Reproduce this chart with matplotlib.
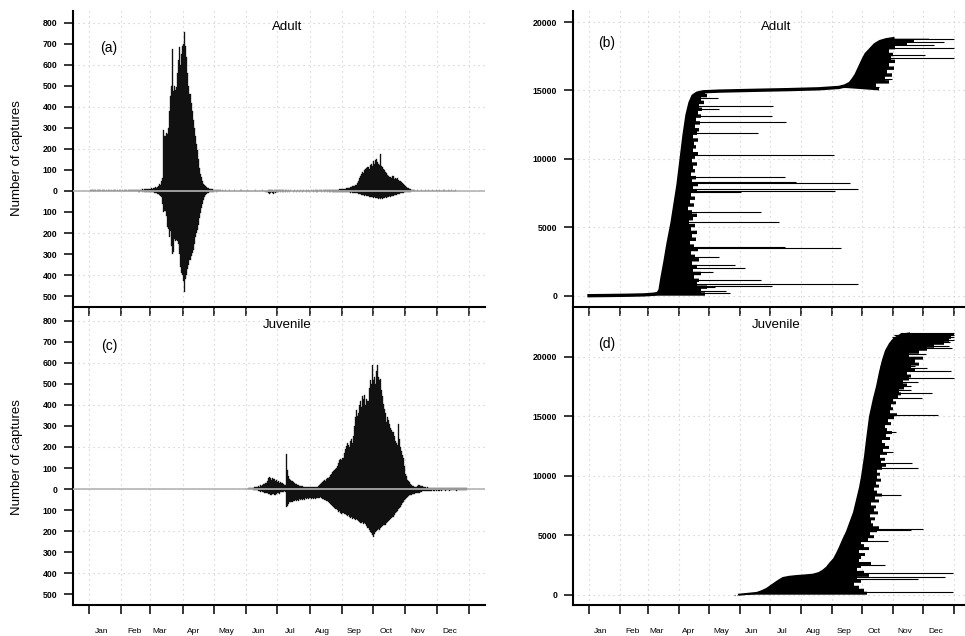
import numpy as np
import matplotlib
matplotlib.use('Agg')
import matplotlib.pyplot as plt

plt.rcParams['font.family'] = ['Liberation Sans', 'DejaVu Sans']

# month boundaries (day of year) and where the month names sit
month_edges = [0, 31, 59, 90, 120, 151, 181, 212, 243, 273, 304, 334, 365]
month_label_pos = [12, 43.5, 68, 100, 132, 162.5, 193, 224, 255, 285, 316, 346.5]
month_names = ['Jan', 'Feb', 'Mar', 'Apr', 'May', 'Jun',
               'Jul', 'Aug', 'Sep', 'Oct', 'Nov', 'Dec']

# ---- daily captures, adults (upper side) ----
adult_up_winter = [5, 4, 6, 3, 4, 5, 2, 3, 4, 6, 3, 2, 4, 3, 5, 2, 3, 2, 4, 3,
                   2, 3, 2, 4, 3, 2, 3, 2, 3, 4, 2, 3, 2, 3, 4, 3, 2, 3, 4, 3,
                   5, 4, 3, 4, 5, 6, 4, 5, 6, 5, 7, 6, 8, 7]            # day 1-54
adult_up_spring = [8, 9, 8, 10, 11, 12, 10, 14, 15, 18, 16, 20, 25, 35, 30, 45,
                   60, 290, 260, 275, 272, 300, 380, 450, 500, 675, 477, 500,
                   480, 493, 560, 620, 683, 600, 651, 690, 700, 757, 690, 635,
                   560, 500, 462, 420, 380, 335, 300, 260, 225, 193, 150, 110,
                   82, 65, 48, 35, 30, 24, 19, 15, 12, 10, 9, 7, 8, 6, 5, 4, 5,
                   3, 4]                                                  # day 55-125
adult_up_summer = [3, 2, 3, 2, 2, 3, 2, 1, 2, 3, 2, 2, 1, 2, 3, 2, 2, 1, 2, 2,
                   3, 2, 2, 1, 2, 2, 3, 2, 1, 2, 2, 1, 2, 2, 3, 2, 2, 1, 2, 2,
                   2, 3, 2, 2, 1, 2, 4, 3, 5, 4, 3, 2, 4, 3, 6, 5, 3, 4, 5, 3,
                   4, 3, 2, 3, 4, 2, 3, 2, 3, 2, 2, 3, 2, 2, 3, 2, 2, 3, 2, 2,
                   3, 2, 2, 3, 2, 3, 2, 2, 3, 2, 3, 2, 3, 3, 2, 3, 4, 3, 2, 3,
                   4, 3, 4, 3, 5, 4, 3, 4, 5, 4]                          # day 126-235
adult_up_autumn = [4, 5, 5, 6, 6, 8, 7, 9, 10, 9, 11, 12, 13, 14, 15, 18, 20, 22,
                   25, 24, 28, 30, 38, 48, 60, 70, 80, 90, 86, 100, 105, 110, 115,
                   106, 122, 128, 118, 140, 130, 148, 152, 138, 130, 125, 175, 120,
                   114, 105, 100, 92, 85, 78, 72, 66, 64, 62, 70, 58, 62, 55, 60,
                   52, 48, 45, 43, 38, 32, 28, 22, 19, 15, 12, 10, 8, 6, 4, 3]  # day 236-312
adult_up_late = [3, 2, 2, 3, 2, 2, 3, 2, 2, 2, 3, 2, 2, 3, 2, 2, 2, 3, 2, 2,
                 2, 3, 2, 2, 3, 2, 2, 2, 3, 2, 2, 2, 3, 2, 2, 3, 2, 2, 2, 3]  # day 313-352

# ---- daily captures, adults (lower side) ----
adult_dn_winter = [2, 1, 2, 1, 1, 2, 1, 2, 1, 1, 2, 1, 1, 2, 1, 2, 1, 1, 2, 1,
                   1, 2, 1, 1, 2, 1, 2, 1, 1, 2, 1, 1, 2, 1, 2, 1, 1, 2, 1, 2,
                   2, 1, 2, 2, 1, 2, 2, 3, 2, 2, 3, 2, 3, 3]
adult_dn_spring = [3, 3, 4, 3, 4, 5, 4, 6, 8, 10, 12, 14, 15, 20, 25, 30, 60, 100,
                   95, 120, 170, 180, 220, 190, 260, 300, 290, 230, 240, 235, 240,
                   250, 300, 360, 390, 400, 430, 480, 420, 400, 370, 350, 330, 310,
                   295, 280, 250, 220, 200, 185, 160, 130, 105, 80, 60, 44, 30, 20,
                   15, 10, 8, 6, 5, 4, 3, 3, 2, 3, 2, 2, 2]
adult_dn_summer = [2, 1, 2, 1, 1, 2, 1, 2, 1, 1, 2, 1, 1, 2, 1, 2, 1, 1, 2, 1,
                   1, 2, 1, 1, 2, 1, 2, 1, 1, 2, 1, 1, 2, 1, 2, 1, 1, 2, 1, 2,
                   2, 1, 2, 2, 3, 5, 8, 15, 10, 6, 12, 14, 5, 8, 6, 4, 3,
                   2, 3, 2, 4, 3, 2, 3, 2, 4, 2, 3, 2, 2, 3, 2, 2, 3, 2, 2, 3,
                   2, 2, 3, 2, 2, 2, 3, 2, 2, 3, 2, 2, 2, 3, 2, 2, 3, 2, 2, 2,
                   3, 2, 2, 3, 2, 2, 3, 2, 3, 3, 2, 3, 3]
adult_dn_autumn = [3, 3, 4, 3, 4, 4, 5, 4, 5, 5, 6, 5, 6, 7, 6, 8, 7, 8, 9, 10,
                   10, 12, 11, 13, 15, 16, 18, 17, 20, 22, 21, 24, 25, 28, 27, 30,
                   28, 32, 30, 34, 33, 35, 36, 34, 38, 35, 36, 33, 34, 30, 32, 29,
                   28, 26, 27, 24, 22, 20, 21, 18, 16, 15, 13, 12, 10, 9, 8, 7, 6,
                   5, 4, 4, 3, 3, 2, 2, 2]
adult_dn_late = [2, 1, 1, 2, 1, 1, 2, 1, 1, 1, 2, 1, 1, 2, 1, 1, 1, 2, 1, 1,
                 1, 2, 1, 1, 2, 1, 1, 1, 2, 1, 1, 1, 2, 1, 1, 2, 1, 1, 1, 2]

# ---- daily captures, juveniles ----
juv_up = [1, 2, 2, 3, 3, 4, 5, 5, 6, 8,
          10, 12, 10, 15, 12, 20, 15, 18, 22, 25,
          30, 40, 55, 58, 55, 45, 52, 50, 48, 40,
          42, 35, 38, 30, 35, 28, 30, 25, 20, 18,
          169, 90, 60, 50, 45, 40, 35, 30, 25, 22,
          20, 18, 16, 15, 14, 15, 12, 10, 12, 12,
          10, 9, 10, 8, 10, 9, 8, 10, 12, 10,
          14, 18, 22, 28, 32, 38, 42, 40, 48, 52,
          55, 59, 65, 72, 80, 85, 90, 95, 100, 110,
          125, 138, 145, 140, 150, 170, 190, 205, 217, 210,
          200, 230, 240, 220, 250, 300, 340, 375, 345, 360,
          400, 420, 390, 440, 430, 445, 400, 430, 420, 480,
          520, 500, 588, 520, 530, 500, 560, 590, 530, 520,
          525, 470, 440, 406, 380, 360, 320, 340, 330, 310,
          290, 280, 270, 250, 230, 220, 210, 311, 240, 200,
          180, 160, 150, 110, 74, 60, 45, 38, 32, 25,
          20, 16, 14, 12, 10, 12, 15, 18, 16, 14,
          15, 12, 10, 8, 7, 8, 6, 7, 6, 5,
          5, 4, 6, 5, 4, 5, 6, 4, 5, 5, 4, 6, 5, 4, 5, 5, 4,
          6, 5, 4, 5, 5, 4, 6, 5, 4, 5, 5, 4, 6, 5, 4, 5, 6]   # day 150-363
juv_dn = [2, 3, 4, 5, 6, 8, 10, 12, 10, 14,
          12, 16, 18, 20, 22, 25, 28, 30, 25, 22,
          28, 30, 24, 20, 18, 22, 15, 14, 15, 12,
          10, 12, 87, 80, 70, 62, 60, 62, 58, 55,
          52, 56, 50, 55, 48, 50, 45, 52, 48, 50,
          44, 48, 42, 46, 40, 44, 48, 42, 45, 40,
          46, 42, 40, 44, 38, 42, 45, 48, 50, 52,
          55, 58, 62, 66, 70, 75, 80, 84, 88, 92,
          95, 100, 110, 105, 112, 118, 115, 120, 118, 123,
          128, 125, 130, 135, 131, 140, 138, 142, 145, 140,
          148, 150, 155, 160, 163, 158, 165, 160, 166, 175,
          185, 195, 205, 210, 218, 226, 215, 205, 200, 195,
          190, 192, 185, 179, 175, 172, 168, 170, 160, 155,
          150, 145, 140, 135, 130, 122, 115, 110, 104, 95,
          90, 84, 76, 68, 60, 52, 46, 40, 36, 33,
          30, 28, 28, 25, 22, 21, 20, 18, 20, 16,
          14, 12, 11,
          10, 8, 10, 9, 7, 8, 9, 7, 8, 6, 7, 8, 6, 7, 6, 8, 7, 6, 7, 5,
          6, 7, 6, 5, 6, 7, 5, 6, 5, 6, 5, 6, 7, 5, 6, 5, 6, 5, 4, 5,
          6, 5, 4]                                                     # day 158-363

# ---- cumulative captures, adults: first-capture curve ----
adult_curve_day = [0, 20, 40, 55, 62, 66, 69, 71, 73, 76, 79, 83, 86, 89, 92, 95,
                   98, 101, 104, 108, 114, 130, 160, 200, 230, 250, 256, 261, 264,
                   267, 270, 274, 277, 281, 286, 291, 297, 304]
adult_curve_n = [0, 15, 35, 60, 90, 120, 180, 400, 1300, 2500, 3800, 5300, 6700,
                 8100, 9900, 11700, 13200, 14100, 14600, 14800, 14900, 14950, 15000,
                 15060, 15120, 15220, 15330, 15520, 15800, 16130, 16600, 17230,
                 17650, 17960, 18350, 18570, 18700, 18780]
# last capture day of the bulk, every 250 individuals (0 ... 18750)
adult_edge_last = [116, 112, 118, 108, 110, 105, 112, 104, 108, 103, 110, 106,
                   102, 109, 105, 101, 107, 103, 108, 102, 106, 100, 104, 108,
                   103, 99, 105, 101, 106, 102, 108, 104, 109, 103, 107, 102,
                   106, 104, 108, 103, 106, 109, 104, 107, 105, 109, 104, 108,
                   110, 106, 111, 107, 112, 109, 113, 110, 115, 112, 118, 116,
                   290, 287, 300, 296, 303, 298, 305, 300, 306, 302, 304, 300,
                   306, 318, 325, 340]
adult_long_n = [18760, 18520, 18330, 18100, 17620, 17380, 15830, 15640, 15230,
                14420, 13860, 13670, 13130, 12690, 11910, 10280, 8700, 8330, 8210,
                7800, 7670, 7600, 6090, 5410, 3580, 3460, 2850, 2240, 2050, 1750,
                1140, 850, 710, 610, 365, 170]
adult_long_first = [304, 292, 288, 283, 278, 276, 263, 260, 250,
                    102, 99, 99, 98, 97, 96, 93, 90, 89, 89,
                    88, 88, 88, 85, 83, 78, 78, 77, 75, 75, 74,
                    72, 72, 71, 71, 70, 60]
adult_long_last = [365, 355, 345, 365, 336, 365, 303, 298, 290,
                   129, 184, 130, 183, 197, 169, 245, 196, 207, 261,
                   269, 246, 152, 172, 190, 196, 252, 130, 146, 156, 124,
                   172, 269, 183, 126, 137, 141]

# ---- cumulative captures, juveniles ----
juv_curve_day = [150, 154, 160, 168, 173, 178, 183, 188, 191, 194, 200, 208, 216,
                 224, 230, 234, 238, 241, 245, 248, 251, 254, 258, 261, 265, 268,
                 271, 273, 276, 278, 281, 285, 288, 291, 294, 297, 301, 305, 311, 320]
juv_curve_n = [0, 30, 80, 150, 300, 500, 800, 1090, 1250, 1400, 1500, 1570, 1620,
               1680, 1820, 2020, 2300, 2630, 3000, 3470, 4000, 4590, 5300, 5990,
               6900, 7950, 9000, 9910, 11600, 13000, 14960, 16500, 17480, 18700,
               19720, 20500, 21100, 21500, 21810, 21950]
juv_edge_last = [278, 275, 270, 265, 272, 268, 280, 275, 268, 272, 282, 270,
                 272, 276, 270, 280, 275, 272, 279, 285, 281, 288, 290, 284,
                 282, 286, 281, 289, 285, 287, 282, 290, 286, 293, 288, 285,
                 290, 287, 292, 288, 291, 288, 293, 297, 292, 296, 291, 298,
                 294, 300, 296, 293, 301, 297, 303, 298, 296, 302, 299, 305,
                 308, 301, 304, 302, 307, 304, 309, 312, 310, 315, 318, 314,
                 320, 322, 318, 326, 322, 330, 326, 334, 320, 330, 338, 345,
                 355, 360, 362, 365]
juv_long_n = [21950, 21810, 21670, 21400, 21210, 20930, 20730, 20650, 20230, 19800,
              19460, 19240, 19040, 18820, 18230, 17900, 17540, 17200, 16910, 16550,
              15090, 13690, 12010, 11030, 10670, 8370, 5490, 5430, 4540, 2490,
              1850, 1460, 1320, 250]
juv_long_first = [311, 305, 303, 302, 301, 299, 298, 298, 296, 294,
                  292, 291, 291, 290, 289, 288, 288, 287, 286, 285,
                  281, 279, 277, 275, 274, 269, 259, 259, 254, 238,
                  228, 200, 196, 172]
juv_long_last = [365, 365, 365, 365, 361, 360, 363, 335, 337, 316,
                 326, 326, 338, 362, 365, 329, 322, 322, 343, 333,
                 349, 307, 304, 323, 329, 312, 334, 322, 299, 296,
                 364, 356, 329, 364]


def frame(ax, ylim, yticks, ylabels, grid_y, xlim, show_months):
    ax.set_facecolor('none')
    ax.set_xlim(xlim)
    ax.set_ylim(ylim)
    ax.spines['top'].set_visible(False)
    ax.spines['right'].set_visible(False)
    ax.spines['left'].set_linewidth(1.5)
    ax.spines['bottom'].set_linewidth(1.5)
    ax.set_xticks(month_edges)
    ax.set_xticklabels([])
    ax.set_yticks(yticks)
    ax.set_yticklabels(ylabels, fontsize=6.3, fontweight='bold')
    ax.tick_params(axis='both', which='major', direction='out',
                   length=6.5, width=1.1, pad=4.8)
    if show_months:
        ax.set_xticks(month_label_pos, minor=True)
        ax.set_xticklabels(month_names, minor=True, fontsize=6)
        ax.tick_params(axis='x', which='minor', length=0, pad=16.5)
    for d in month_edges:
        ax.axvline(d, color='#c8c8c8', lw=0.8, ls=(0, (1, 3.5)), zorder=0)
    for g in grid_y:
        ax.axhline(g, color='#c8c8c8', lw=0.8, ls=(0, (1, 3.5)), zorder=0)


def bars(ax, day0, vals, sign):
    days = np.arange(day0, day0 + len(vals))
    ax.bar(days, sign * np.array(vals), width=1.0, color='#111111',
           edgecolor='#111111', linewidth=0.25, zorder=2)


def mass(ax, cd, cn, rows_n, rows_last, top):
    xs = list(cd)
    ys = list(cn)
    for i in reversed(range(len(rows_n))):
        hi = rows_n[i + 1] if i + 1 < len(rows_n) else top
        xs += [rows_last[i], rows_last[i]]
        ys += [hi, rows_n[i]]
    ax.fill(xs, ys, color='black', lw=0, zorder=2)


fig = plt.figure(figsize=(9.65, 6.36), dpi=100)
ax_a = fig.add_axes([0.07565, 0.51777, 0.42694, 0.46493])
ax_c = fig.add_axes([0.07565, 0.04874, 0.42694, 0.46541])
ax_b = fig.add_axes([0.59378, 0.51730, 0.40622, 0.46540])
ax_d = fig.add_axes([0.59378, 0.04874, 0.40622, 0.46541])

bar_ticks = list(range(-500, 900, 100))
bar_labels = [str(abs(v)) for v in bar_ticks]
for ax, show in ((ax_a, False), (ax_c, True)):
    frame(ax, (-550, 855), bar_ticks, bar_labels, [-400, -200, 0, 200, 400, 600, 800],
          (-15.4, 380.4), show)

# (a) adults
bars(ax_a, 1, adult_up_winter, 1)
bars(ax_a, 55, adult_up_spring, 1)
bars(ax_a, 126, adult_up_summer, 1)
bars(ax_a, 236, adult_up_autumn, 1)
bars(ax_a, 313, adult_up_late, 1)
bars(ax_a, 1, adult_dn_winter, -1)
bars(ax_a, 55, adult_dn_spring, -1)
bars(ax_a, 126, adult_dn_summer, -1)
bars(ax_a, 236, adult_dn_autumn, -1)
bars(ax_a, 313, adult_dn_late, -1)
# (c) juveniles
bars(ax_c, 150, juv_up, 1)
bars(ax_c, 158, juv_dn, -1)
for ax in (ax_a, ax_c):
    ax.axhline(0, color='#b4b4b4', lw=1.2, zorder=3)

# (b), (d) cumulative captures
cum_ticks = [0, 5000, 10000, 15000, 20000]
frame(ax_b, (-826, 20804), cum_ticks, [str(v) for v in cum_ticks], cum_ticks,
      (-16, 376), False)
frame(ax_d, (-866, 24008), cum_ticks, [str(v) for v in cum_ticks], cum_ticks,
      (-16, 376), True)

adult_rows_n = np.arange(len(adult_edge_last)) * 250
acd = np.array(adult_curve_day)
acn = np.array(adult_curve_n)
sp = acd <= 114
au = acd >= 250
rsp = adult_rows_n < 14900
mass(ax_b, acd[sp], acn[sp], adult_rows_n[rsp], np.array(adult_edge_last)[rsp], 14900)
mass(ax_b, acd[au], acn[au], adult_rows_n[~rsp], np.array(adult_edge_last)[~rsp], 18780)
ax_b.plot(adult_curve_day, adult_curve_n, color='black', lw=2.4, zorder=3)
ax_b.hlines(adult_long_n, adult_long_first, adult_long_last, color='black', lw=0.8, zorder=3)

juv_rows_n = np.arange(len(juv_edge_last)) * 250
mass(ax_d, juv_curve_day, juv_curve_n, juv_rows_n, juv_edge_last, 21950)
ax_d.plot(juv_curve_day, juv_curve_n, color='black', lw=1.5, zorder=3)
ax_d.plot([145, 150], [0, 0], color='#888888', lw=1.0, ls=(0, (1, 1)), zorder=3)
ax_d.hlines(juv_long_n, juv_long_first, juv_long_last, color='black', lw=0.8, zorder=3)

# titles and panel letters
for ax, title, letter, ly in ((ax_a, 'Adult', '(a)', 0.875), (ax_b, 'Adult', '(b)', 0.892),
                              (ax_c, 'Juvenile', '(c)', 0.875), (ax_d, 'Juvenile', '(d)', 0.882)):
    ax.text(0.519, 0.946, title, transform=ax.transAxes, ha='center', va='center',
            fontsize=9.5)
    ax.text(0.087, ly, letter, transform=ax.transAxes, ha='center', va='center',
            fontsize=10)

fig.text(17 / 965, 1 - 158 / 636, 'Number of captures', rotation=90,
         ha='center', va='center', fontsize=9.5)
fig.text(17 / 965, 1 - 457 / 636, 'Number of captures', rotation=90,
         ha='center', va='center', fontsize=9.5)

fig.savefig('out.png', dpi=100)
